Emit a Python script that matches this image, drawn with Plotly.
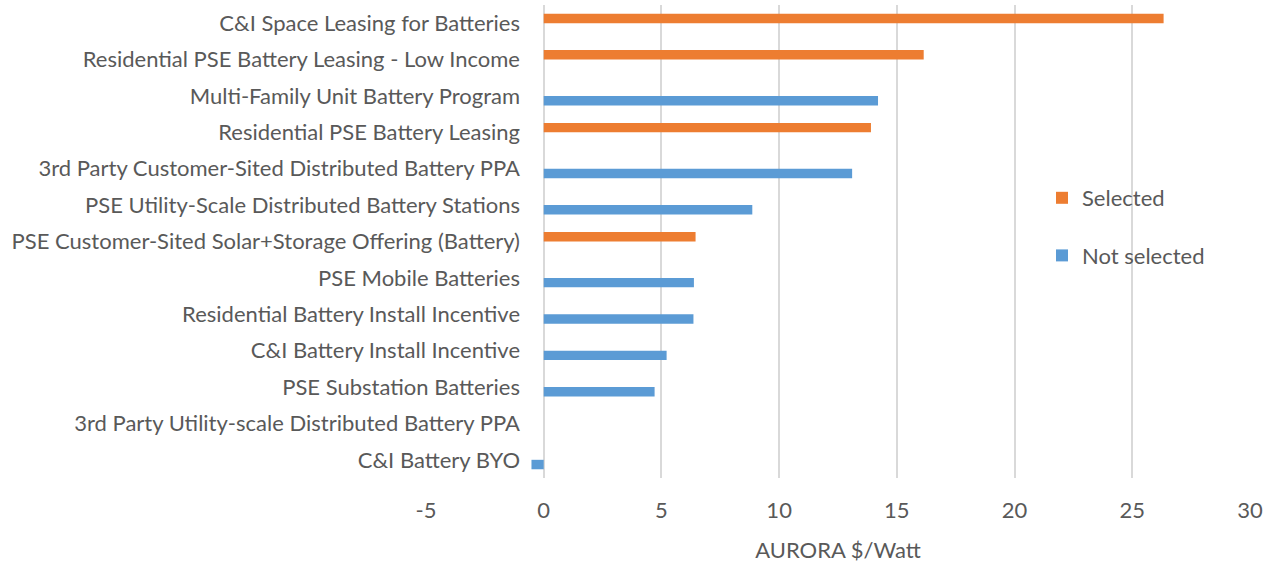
import plotly.graph_objects as go

categories = [
    "C&I Space Leasing for Batteries",
    "Residential PSE Battery Leasing - Low Income",
    "Multi-Family Unit Battery Program",
    "Residential PSE Battery Leasing",
    "3rd Party Customer-Sited Distributed Battery PPA",
    "PSE Utility-Scale Distributed Battery Stations",
    "PSE Customer-Sited Solar+Storage Offering (Battery)",
    "PSE Mobile Batteries",
    "Residential Battery Install Incentive",
    "C&I Battery Install Incentive",
    "PSE Substation Batteries",
    "3rd Party Utility-scale Distributed Battery PPA",
    "C&I Battery BYO",
]
selected = [26.33, 16.14, None, 13.9, None, None, 6.45, None, None, None, None, None, None]
not_selected = [None, None, 14.2, None, 13.1, 8.86, None, 6.38, 6.36, 5.22, 4.71, 0, -0.52]
x_ticks = [-5, 0, 5, 10, 15, 20, 25, 30]
x_tick_labels = ["-5", "0", "5", "10", "15", "20", "25", "30"]

FONT = "Lato"
TXT = "#595959"

fig = go.Figure()
fig.add_trace(go.Bar(y=categories, x=selected, orientation="h", name="Selected",
                     marker=dict(color="#ED7D31", line=dict(width=0)), legendgroup="a"))
fig.add_trace(go.Bar(y=categories, x=not_selected, orientation="h", name="Not selected",
                     marker=dict(color="#5B9BD5", line=dict(width=0)), legendgroup="b"))

L, R, T, B = 426, 23, 5, 87
pw = 1273 - L - R
ph = 565 - T - B
pos0 = (544 - L) / pw

fig.update_layout(
    width=1273, height=565,
    margin=dict(l=L, r=R, t=T, b=B, pad=0),
    paper_bgcolor="white", plot_bgcolor="white",
    barmode="group", bargap=0.48, bargroupgap=0,
    hovermode=False,
    font=dict(family=FONT, color=TXT, size=22),
    xaxis=dict(range=[-5, 30], tickvals=x_ticks, ticktext=x_tick_labels, showgrid=True,
               gridcolor="#d9d9d9", gridwidth=2, zeroline=False, showline=False, ticks="",
               ticklabelstandoff=17, tickfont=dict(size=22, color=TXT),
               title=dict(text="AURORA $/Watt", font=dict(size=22, color=TXT), standoff=20)),
    yaxis=dict(autorange="reversed", showgrid=False, zeroline=False, showline=False,
               ticks="", anchor="free", position=pos0, ticklabelstandoff=24,
               tickfont=dict(size=22, color=TXT)),
    legend=dict(x=(1042 - L) / pw, xanchor="left", y=(565 - B - 177) / ph, yanchor="top",
                font=dict(size=22, color=TXT), tracegroupgap=26, itemwidth=30,
                bgcolor="rgba(0,0,0,0)"),
    showlegend=True,
)

fig.write_html("out.html", config={"displayModeBar": False, "staticPlot": True},
               post_script="document.body.style.margin='0';")
